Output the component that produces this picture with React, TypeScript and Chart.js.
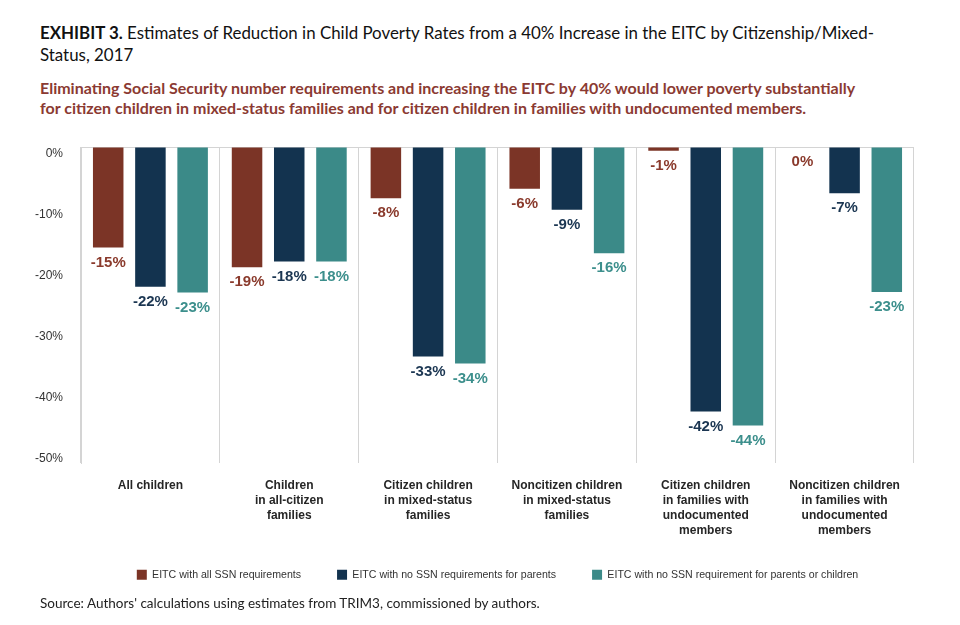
import React, { useEffect, useRef } from 'react';
import { Chart, registerables } from 'chart.js';

Chart.register(...registerables);

const categories: string[][] = [
  ['All children'],
  ['Children', 'in all-citizen', 'families'],
  ['Citizen children', 'in mixed-status', 'families'],
  ['Noncitizen children', 'in mixed-status', 'families'],
  ['Citizen children', 'in families with', 'undocumented', 'members'],
  ['Noncitizen children', 'in families with', 'undocumented', 'members'],
];

const seriesNames = [
  'EITC with all SSN requirements',
  'EITC with no SSN requirements for parents',
  'EITC with no SSN requirement for parents or children',
];

const allSsnValues = [-15.9, -19.0, -8.1, -6.6, -0.6, 0];
const noSsnParentsValues = [-22.1, -18.1, -33.1, -9.9, -41.8, -7.3];
const noSsnAllValues = [-23.0, -18.1, -34.2, -16.8, -44.0, -22.9];

const allSsnLabels = ['-15%', '-19%', '-8%', '-6%', '-1%', '0%'];
const noSsnParentsLabels = ['-22%', '-18%', '-33%', '-9%', '-42%', '-7%'];
const noSsnAllLabels = ['-23%', '-18%', '-34%', '-16%', '-44%', '-23%'];

const yTickValues = [0, -10, -20, -30, -40, -50];

const barColors = ['#7B3426', '#13334F', '#3B8A88'];
const labelColors = ['#8A3A2C', '#1B3652', '#3C8F8C'];

const SANS = '"Liberation Sans", Arial, sans-serif';
const HUMAN = 'Lato, "Open Sans", sans-serif';

export default function App() {
  const ref = useRef<HTMLCanvasElement>(null);

  useEffect(() => {
    document.body.style.margin = '0';
    const labelSets = [allSsnLabels, noSsnParentsLabels, noSsnAllLabels];

    const valueLabels = {
      id: 'valueLabels',
      afterDatasetsDraw(chart: any) {
        const ctx = chart.ctx;
        ctx.save();
        ctx.font = `bold 15px ${SANS}`;
        ctx.textAlign = 'center';
        ctx.textBaseline = 'middle';
        chart.data.datasets.forEach((ds: any, di: number) => {
          const meta = chart.getDatasetMeta(di);
          meta.data.forEach((el: any, i: number) => {
            ctx.fillStyle = labelColors[di];
            ctx.fillText(labelSets[di][i], el.x, el.y + 15);
          });
        });
        ctx.restore();
      },
    };

    const legendShift = {
      id: 'legendShift',
      afterLayout(chart: any) {
        const l = chart.legend;
        if (l) {
          l.top -= 5;
          l.bottom -= 5;
        }
      },
    };

    const chart = new Chart(ref.current as HTMLCanvasElement, {
      type: 'bar',
      data: {
        labels: categories,
        datasets: [
          { label: seriesNames[0], data: allSsnValues, backgroundColor: barColors[0], borderWidth: 0 },
          { label: seriesNames[1], data: noSsnParentsValues, backgroundColor: barColors[1], borderWidth: 0 },
          { label: seriesNames[2], data: noSsnAllValues, backgroundColor: barColors[2], borderWidth: 0 },
        ],
      },
      options: {
        responsive: false,
        animation: false,
        categoryPercentage: 0.912,
        barPercentage: 0.723,
        layout: { padding: { top: 17, right: 46, left: 0, bottom: 0 } },
        plugins: {
          tooltip: { enabled: false },
          legend: {
            position: 'bottom',
            fullSize: false,
            labels: {
              boxWidth: 10,
              boxHeight: 10,
              padding: 36,
              color: '#333',
              font: { family: SANS, size: 10.6 },
            },
          },
        },
        scales: {
          x: {
            offset: true,
            grid: { display: true, offset: true, color: '#d4d4d4', drawTicks: false },
            border: { display: false },
            ticks: {
              autoSkip: false,
              maxRotation: 0,
              minRotation: 0,
              padding: 15,
              color: '#262626',
              font: { family: SANS, size: 12, weight: 'bold', lineHeight: 1.25 },
            },
            afterFit: (s: any) => {
              s.height = 75;
            },
          },
          y: {
            position: 'left',
            min: -50,
            max: 0,
            ticks: { display: false, stepSize: 10 },
            grid: {
              drawTicks: false,
              color: (c: any) => (c.tick && c.tick.value === 0 ? '#d4d4d4' : 'rgba(0,0,0,0)'),
            },
            border: { display: true, color: '#d4d4d4' },
            afterFit: (s: any) => {
              s.width = 18;
            },
          },
          yl: {
            position: 'left',
            min: -50.74,
            max: 1.15,
            afterBuildTicks: (s: any) => {
              s.ticks = yTickValues.map((v) => ({ value: v }));
            },
            ticks: {
              padding: 0,
              color: '#333',
              font: { family: SANS, size: 12 },
              callback: (v: any) => `${v}%`,
            },
            grid: { display: false, drawTicks: false },
            border: { display: false },
            afterFit: (s: any) => {
              s.width = 63;
            },
          },
        },
      },
      plugins: [valueLabels, legendShift],
    } as any);

    return () => chart.destroy();
  }, []);

  return (
    <div style={{ position: 'relative', width: 960, height: 625, background: '#fff', overflow: 'hidden' }}>
      <div
        style={{
          position: 'absolute',
          left: 40,
          top: 22,
          fontFamily: HUMAN,
          fontSize: 16.9,
          lineHeight: '22px',
          color: '#111',
          whiteSpace: 'nowrap',
        }}
      >
        <span style={{ fontWeight: 700 }}>EXHIBIT 3.</span> Estimates of Reduction in Child Poverty Rates from a 40%
        Increase in the EITC by Citizenship/Mixed-
        <br />
        Status, 2017
      </div>
      <div
        style={{
          position: 'absolute',
          left: 40,
          top: 78,
          fontFamily: HUMAN,
          fontWeight: 700,
          fontSize: 16,
          lineHeight: '19.5px',
          color: '#8B3A32',
          whiteSpace: 'nowrap',
        }}
      >
        Eliminating Social Security number requirements and increasing the EITC by 40% would lower poverty substantially
        <br />
        for citizen children in mixed-status families and for citizen children in families with undocumented members.
      </div>
      <canvas
        ref={ref}
        width={960}
        height={465}
        style={{ position: 'absolute', left: 0, top: 130, width: 960, height: 465, display: 'block' }}
      />
      <div
        style={{
          position: 'absolute',
          left: 40,
          top: 594,
          fontFamily: HUMAN,
          fontSize: 13.5,
          lineHeight: '18px',
          color: '#222',
          whiteSpace: 'nowrap',
        }}
      >
        Source: Authors' calculations using estimates from TRIM3, commissioned by authors.
      </div>
    </div>
  );
}
